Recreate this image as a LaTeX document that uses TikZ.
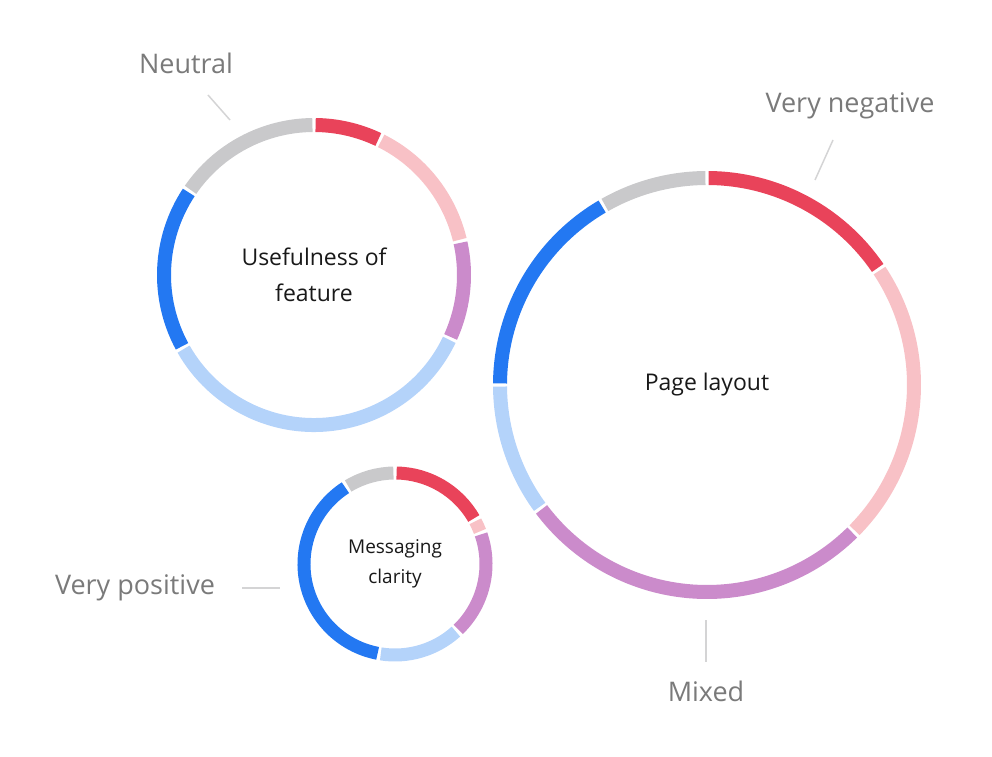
\documentclass[tikz,border=0pt]{standalone}
\usepackage{fontspec}
\setmainfont{Open Sans}
\usetikzlibrary{calc}
\definecolor{cred}{HTML}{E9435A}
\definecolor{cpink}{HTML}{F8C1C6}
\definecolor{cpurple}{HTML}{CB8BCB}
\definecolor{clblue}{HTML}{B4D3FA}
\definecolor{cblue}{HTML}{2378F2}
\definecolor{cgray}{HTML}{C9C9CB}
\definecolor{ctext}{HTML}{7A7A7A}
\tikzset{
 lbl/.style={text=ctext, font=\fontsize{27}{30}\selectfont, inner sep=0},
 ctr/.style={text=black!90, font=\fontsize{23}{36}\selectfont, align=center, inner sep=0},
 lead/.style={draw=cgray!80, line width=1.5pt}
}
\newcommand{\ring}[4]{% name, radius(mid), width, list a1/a2/col
 \foreach \aa/\bb/\cc in {#4}{
  \pgfmathsetmacro{\g}{1.6/#2*57.3}
  \pgfmathsetmacro{\sa}{90-\aa-\g}
  \pgfmathsetmacro{\ea}{90-\bb+\g}
  \draw[\cc, line width=#3] ($(#1)+(\sa:#2)$) arc[start angle=\sa, end angle=\ea, radius=#2];
 }}
\begin{document}
\begin{tikzpicture}[x=1pt,y=1pt]
\useasboundingbox (0,0) rectangle (992,756);
\coordinate (c1) at (314,481);
\coordinate (c2) at (707,371);
\coordinate (c3) at (395,192);
\ring{c1}{150}{14}{0/26/cred,26/77/cpink,77/115/cpurple,115/241/clblue,241/304/cblue,304/360/cgray}
\ring{c2}{207}{14}{0/56/cred,56/135/cpink,135/233.5/cpurple,233.5/270/clblue,270/330/cblue,330/360/cgray}
\ring{c3}{91}{13}{0/61/cred,61/70/cpink,70/137/cpurple,137/190/clblue,190/328/cblue,328/360/cgray}
\node[ctr] (t1) at (c1) {Usefulness of\\feature};
\node[ctr] (t2) at (c2) {Page layout};
\node[ctr, font=\fontsize{19}{30}\selectfont] (t3) at (c3) {Messaging\\clarity};
\node[lbl] (l1) at (186,693) {Neutral};
\node[lbl] (l2) at (850,650) {Very negative};
\node[lbl] (l3) at (135,168) {Very positive};
\node[lbl] (l4) at (706,65) {Mixed};
\coordinate (e1) at (230,636);
\coordinate (e2) at (815,576);
\coordinate (e3) at (280,168);
\coordinate (e4) at (706,94);
\draw[lead] (208,661) -- (e1);
\draw[lead] (833,616) -- (e2);
\draw[lead] (242,168) -- (e3);
\draw[lead] (706,136) -- (e4);
\end{tikzpicture}
\end{document}
